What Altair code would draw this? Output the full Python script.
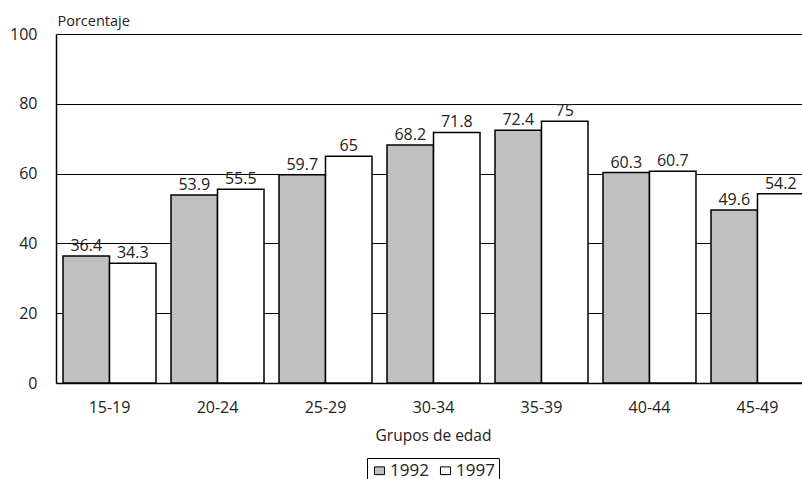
import altair as alt
import pandas as pd

# Age groups and percentages per survey year
groups = ["15-19", "20-24", "25-29", "30-34", "35-39", "40-44", "45-49"]
years = ["1992", "1997"]
values_1992 = [36.4, 53.9, 59.7, 68.2, 72.4, 60.3, 49.6]
values_1997 = [34.3, 55.5, 65, 71.8, 75, 60.7, 54.2]

rows = []
for g, a, b in zip(groups, values_1992, values_1997):
    rows.append({"grupo": g, "anio": "1992", "valor": a})
    rows.append({"grupo": g, "anio": "1997", "valor": b})
df = pd.DataFrame(rows)

FONT = "Open Sans"
INK = "#222222"

x = alt.X(
    "grupo:N",
    sort=groups,
    scale=alt.Scale(range=[0, 755], paddingInner=0.139, paddingOuter=0.065),
    axis=alt.Axis(
        title="Grupos de edad",
        labelAngle=0,
        ticks=False,
        labelPadding=16,
        titlePadding=13,
        titleX=377,
        domainColor="black",
        domainWidth=1.5,
    ),
)
xoff = alt.XOffset("anio:N", sort=years, scale=alt.Scale(paddingInner=0, paddingOuter=0))
y = alt.Y(
    "valor:Q",
    scale=alt.Scale(domain=[0, 100]),
    axis=alt.Axis(
        values=[0, 20, 40, 60, 80, 100],
        title="Porcentaje",
        titleAngle=0,
        titleAlign="left",
        titleBaseline="bottom",
        titleX=1,
        titleY=-6,
        titleFontSize=14.5,
        ticks=False,
        labelPadding=19,
        gridColor="black",
        gridOpacity=1,
        gridWidth=1,
        domainColor="black",
        domainWidth=1.5,
    ),
)

bars = alt.Chart(df).mark_bar(stroke="black", strokeWidth=1.5).encode(
    x=x,
    xOffset=xoff,
    y=y,
    color=alt.Color(
        "anio:N",
        sort=years,
        scale=alt.Scale(domain=years, range=["#c0c0c0", "#ffffff"]),
        legend=alt.Legend(
            title=None,
            orient="none",
            legendX=311,
            legendY=424,
            direction="horizontal",
            symbolType="M-1.3,-1H1.3V1H-1.3Z",
            symbolSize=60,
            symbolStrokeColor="black",
            symbolStrokeWidth=1,
            symbolOpacity=1,
            strokeColor="black",
            padding=4,
            columnPadding=8,
            labelOffset=2,
            labelFontSize=17,
            labelFont=FONT,
            labelColor=INK,
        ),
    ),
)

labels = alt.Chart(df).mark_text(
    dy=-5, baseline="alphabetic", fontSize=16, font=FONT, color=INK
).encode(
    x=alt.X("grupo:N", sort=groups),
    xOffset=alt.XOffset("anio:N", sort=years),
    y="valor:Q",
    text=alt.Text("valor:Q"),
)

chart = (
    alt.layer(bars, labels)
    .properties(
        width=746,
        height=349,
        padding={"left": 56, "top": 34, "right": 0, "bottom": 96},
        autosize="none",
    )
    .configure_view(stroke=None)
    .configure_axis(
        labelFont=FONT,
        titleFont=FONT,
        labelFontSize=16,
        titleFontSize=15.5,
        labelColor=INK,
        titleColor=INK,
        titleFontWeight="normal",
    )
)

chart.save("out.html", embed_options={"renderer": "svg", "actions": False})
